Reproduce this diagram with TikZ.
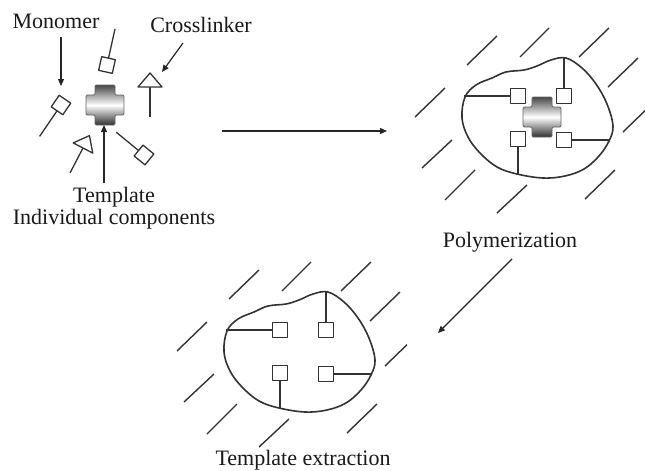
\documentclass[tikz,border=0pt]{standalone}
\usepackage{fontspec}
\setmainfont{Liberation Serif}
\usetikzlibrary{arrows.meta}
\definecolor{ink}{HTML}{333333}
\tikzset{
  caption/.style={font=\fontsize{22}{26}\selectfont, text=black!90, inner sep=0pt, anchor=base},
  unit/.style={draw=ink, line width=1.3pt, line join=round},
  pointer/.style={draw=black!85, line width=1.2pt, -{Triangle[length=7pt,width=6pt]}},
  gel edge/.style={draw=ink, line width=1.6pt, line join=round},
  hatch/.style={draw=ink, line width=1.4pt},
  template/.style={draw=black!60, line width=0.8pt, rounded corners=1.2pt,
    top color=black!72, bottom color=black!82, middle color=white},
}
% plus-shaped template molecule, centred on the current origin
\newcommand\templatecross{%
  \path[template] (-10,-20) -- (10,-20) -- (10,-10) -- (19,-10) -- (19,10) -- (10,10)
    -- (10,20) -- (-10,20) -- (-10,10) -- (-19,10) -- (-19,-10) -- (-10,-10) -- cycle;}
% polymer matrix: outline, solvent hatching, four anchored cavities
\newcommand\gelmatrix{%
  \foreach \a/\b/\c/\d in {467/65/497/36, 520/57/549/28, 579/57/609/28, 608/87/638/58,
      623/132/645/110.7, 415/117/445/88, 422/168/452/140, 445/200/475/170,
      497/213/527/185, 585/199/615/170}
    {\draw[hatch] (\a,\b) -- (\c,\d);}
  \draw[gel edge] plot[smooth cycle, tension=0.6] coordinates {
      (566,58) (582,68) (596,84) (607,104) (613,126) (609,141) (599,156) (584,169)
      (565,176) (543,178) (517,174) (497,167) (480,153) (468,137) (462,118)
      (465,97) (476,85) (492,78) (506,72) (524,70) (537,66) (551,60)};
  \draw[unit] (510.5,96) -- (464,96);
  \draw[unit] (564,88.5) -- (564,58);
  \draw[unit] (518,146.5) -- (518,174.5);
  \draw[unit] (571.5,140) -- (609.5,140);}
\newcommand\gelcavities{%
  \foreach \x/\y in {518/96, 564/96, 518/139, 564/140}
    {\draw[unit, fill=white] (\x-7.5,\y-7.5) rectangle (\x+7.5,\y+7.5);}}

\begin{document}
\begin{tikzpicture}[x=1pt, y=-1pt]
\useasboundingbox (0,0) rectangle (645,471);

% ---- individual components ----
\node[caption] (monomer) at (56,28) {Monomer};
\node[caption] (crosslinker) at (201,32) {Crosslinker};
\node[caption] (template) at (114,202) {Template};
\node[caption] (components) at (114,224) {Individual components};

\begin{scope}[shift={(105,105)}]
  \templatecross
\end{scope}

% monomers: square head on a stick
\begin{scope}[shift={(107,65)}, rotate=-192.5]
  \draw[unit] (0,7) -- (0,37);
  \draw[unit, fill=white] (-7,-7) rectangle (7,7);
\end{scope}
\begin{scope}[shift={(61,105)}, rotate=-34.3]
  \draw[unit] (0,7) -- (0,38);
  \draw[unit, fill=white] (-7,-7) rectangle (7,7);
\end{scope}
\begin{scope}[shift={(144,155)}, rotate=-129.4]
  \draw[unit] (0,7) -- (0,36);
  \draw[unit, fill=white] (-7,-7) rectangle (7,7);
\end{scope}

% crosslinkers: triangle head on a stick
\begin{scope}[shift={(150,87)}]
  \draw[unit] (0,0) -- (0,30);
  \draw[unit, fill=white] (-12,0) -- (12,0) -- (0,-14) -- cycle;
\end{scope}
\begin{scope}[shift={(83,148)}, rotate=-27.5]
  \draw[unit] (0,0) -- (0,28);
  \draw[unit, fill=white] (-11,0) -- (11,0) -- (0,-14) -- cycle;
\end{scope}

% labelling arrows
\coordinate (monomer-from) at (61,37);
\coordinate (monomer-to) at (61,86);
\coordinate (crosslinker-from) at (183,43);
\coordinate (crosslinker-to) at (162,72);
\coordinate (template-from) at (104,183);
\coordinate (template-to) at (104,125);
\draw[pointer] (monomer-from) -- (monomer-to);
\draw[pointer] (crosslinker-from) -- (crosslinker-to);
\draw[pointer] (template-from) -- (template-to);

% ---- polymerization ----
\gelmatrix
\begin{scope}[shift={(542,117)}]
  \templatecross
\end{scope}
\gelcavities
\node[caption] (polymerization) at (510,247) {Polymerization};

% ---- template extraction ----
\begin{scope}[shift={(-238,234)}]
  \gelmatrix
  \gelcavities
\end{scope}
\node[caption] (extraction) at (303,465) {Template extraction};

% process arrows
\coordinate (mix) at (222,131);
\coordinate (polymer-in) at (387,131);
\coordinate (polymer-out) at (512,259);
\coordinate (extract-in) at (438,333);
\draw[pointer] (mix) -- (polymer-in);
\draw[pointer] (polymer-out) -- (extract-in);
\end{tikzpicture}
\end{document}
